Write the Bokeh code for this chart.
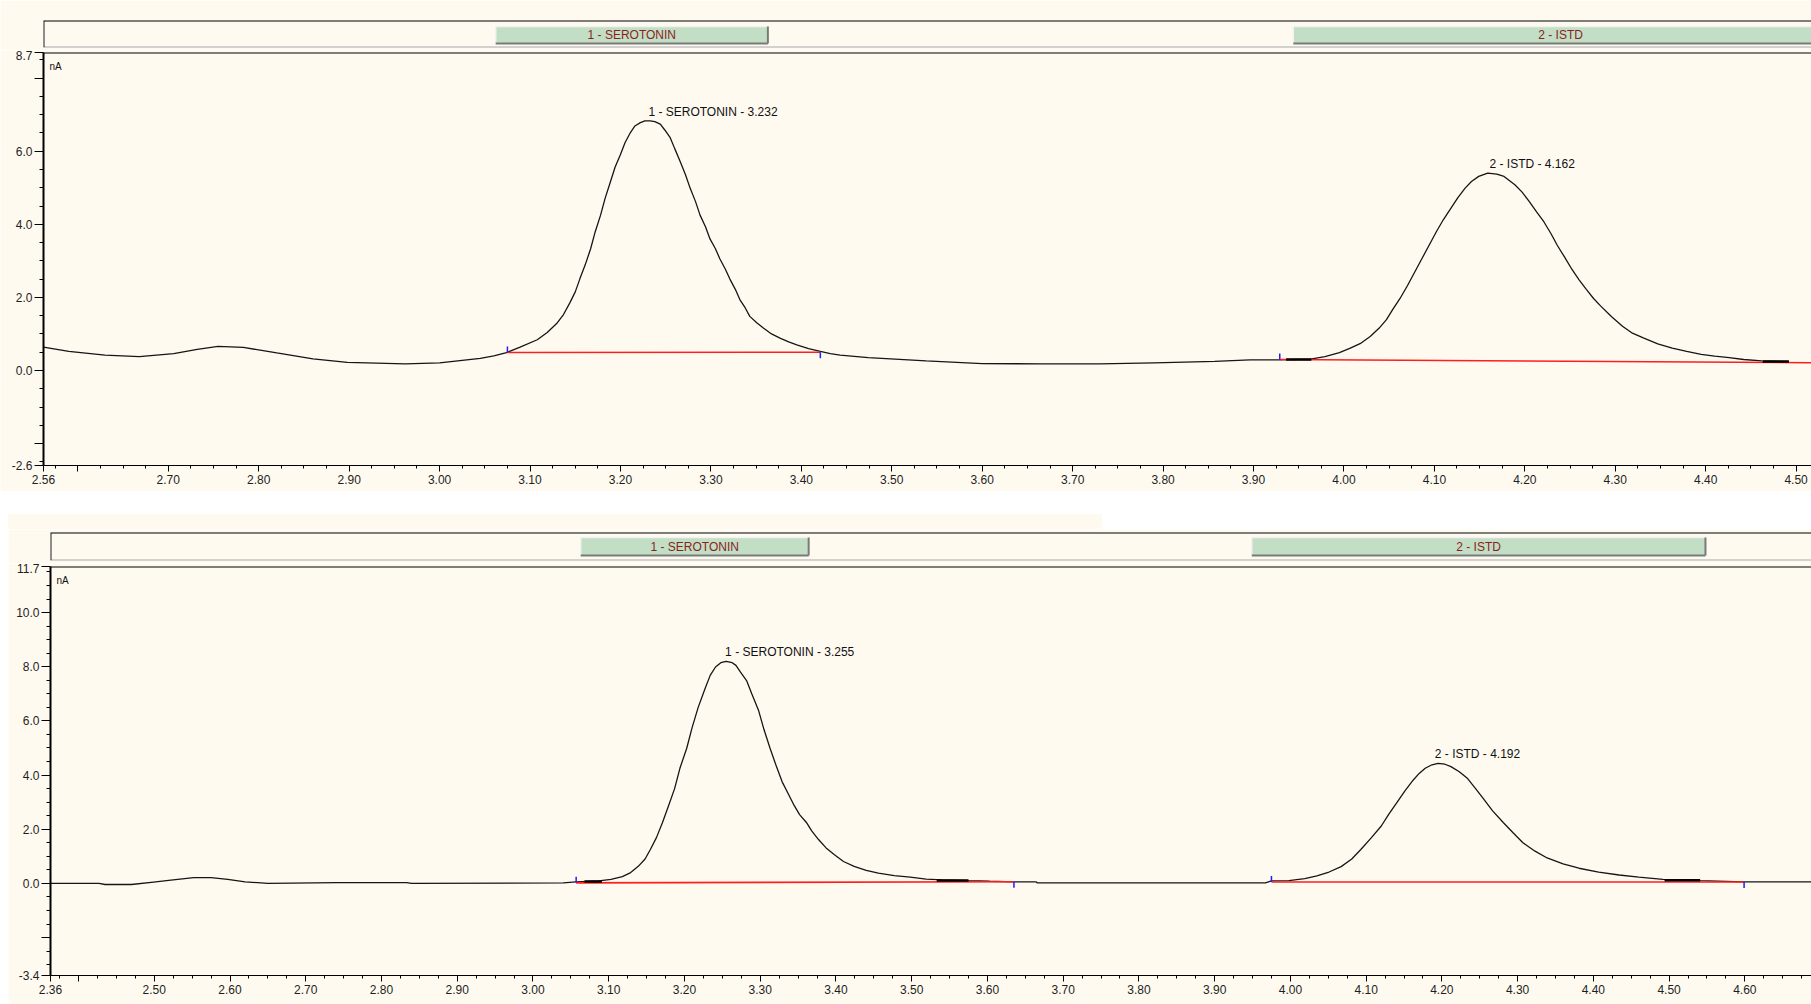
import math
from bokeh.plotting import figure
from bokeh.models import Range1d, FixedTicker, PrintfTickFormatter, Span, Spacer
from bokeh.layouts import column, row
from bokeh.embed import file_html
from bokeh.resources import INLINE
from bokeh.core.properties import value

CREAM = "#FFFAF0"
FONT = "Liberation Sans"

# ---------------- data ----------------
# upper chromatogram: retention time (min) and signal (nA)
TOP_T = [2.562, 2.590, 2.630, 2.668, 2.706, 2.732, 2.755, 2.783, 2.820, 2.860, 2.898, 2.962,
         3.000, 3.045, 3.060, 3.074, 3.089, 3.108, 3.119, 3.130, 3.137, 3.144, 3.150, 3.155,
         3.161, 3.167, 3.172, 3.178, 3.183, 3.189, 3.194, 3.200, 3.205, 3.211, 3.216, 3.222,
         3.227, 3.233, 3.238, 3.244, 3.249, 3.255, 3.260, 3.266, 3.272, 3.277, 3.283, 3.288,
         3.294, 3.299, 3.305, 3.310, 3.316, 3.321, 3.327, 3.332, 3.338, 3.343, 3.351, 3.358,
         3.367, 3.377, 3.386, 3.395, 3.408, 3.421, 3.432, 3.443, 3.474, 3.538, 3.600, 3.665,
         3.730, 3.790, 3.857, 3.896, 3.928, 3.963, 3.979, 3.995, 4.007, 4.019, 4.029, 4.039,
         4.047, 4.054, 4.062, 4.070, 4.078, 4.086, 4.094, 4.102, 4.110, 4.118, 4.126, 4.134,
         4.141, 4.149, 4.159, 4.169, 4.177, 4.189, 4.197, 4.205, 4.213, 4.221, 4.229, 4.236,
         4.244, 4.252, 4.260, 4.268, 4.276, 4.284, 4.296, 4.308, 4.319, 4.331, 4.347, 4.363,
         4.379, 4.395, 4.410, 4.426, 4.442, 4.462, 4.492]
TOP_V = [0.64, 0.52, 0.42, 0.38, 0.46, 0.58, 0.66, 0.63, 0.48, 0.32, 0.22, 0.18,
         0.21, 0.33, 0.40, 0.49, 0.64, 0.84, 1.04, 1.30, 1.53, 1.85, 2.15, 2.50,
         2.89, 3.33, 3.79, 4.25, 4.71, 5.17, 5.56, 5.91, 6.23, 6.51, 6.69, 6.78,
         6.83, 6.83, 6.81, 6.74, 6.58, 6.37, 6.07, 5.72, 5.35, 4.99, 4.62, 4.25,
         3.93, 3.60, 3.33, 3.05, 2.77, 2.50, 2.22, 1.94, 1.71, 1.48, 1.30, 1.16,
         1.00, 0.88, 0.78, 0.70, 0.60, 0.52, 0.46, 0.42, 0.35, 0.26, 0.19, 0.18,
         0.18, 0.21, 0.25, 0.29, 0.29, 0.31, 0.38, 0.49, 0.61, 0.75, 0.93, 1.16,
         1.39, 1.67, 1.97, 2.31, 2.68, 3.05, 3.42, 3.79, 4.13, 4.43, 4.73, 4.99,
         5.17, 5.31, 5.40, 5.37, 5.31, 5.08, 4.88, 4.62, 4.34, 4.07, 3.74, 3.42,
         3.10, 2.77, 2.48, 2.22, 1.97, 1.76, 1.47, 1.21, 1.02, 0.89, 0.73, 0.61,
         0.52, 0.44, 0.39, 0.35, 0.30, 0.26, 0.24]

# lower chromatogram
BOT_T = [2.363, 2.427, 2.435, 2.470, 2.499, 2.522, 2.552, 2.575, 2.597, 2.620, 2.650, 2.742,
         2.833, 2.840, 3.040, 3.057, 3.087, 3.103, 3.118, 3.129, 3.139, 3.148, 3.155, 3.163,
         3.171, 3.179, 3.187, 3.194, 3.203, 3.210, 3.218, 3.227, 3.234, 3.241, 3.248, 3.255,
         3.263, 3.268, 3.274, 3.282, 3.289, 3.298, 3.305, 3.313, 3.321, 3.329, 3.337, 3.345,
         3.352, 3.361, 3.368, 3.377, 3.387, 3.398, 3.410, 3.424, 3.440, 3.456, 3.477, 3.498,
         3.519, 3.540, 3.575, 3.603, 3.635, 3.664, 3.666, 3.967, 3.975, 3.998, 4.019, 4.035,
         4.051, 4.067, 4.081, 4.093, 4.107, 4.120, 4.130, 4.141, 4.151, 4.162, 4.170, 4.178,
         4.187, 4.195, 4.204, 4.212, 4.223, 4.234, 4.244, 4.255, 4.267, 4.281, 4.294, 4.307,
         4.323, 4.339, 4.360, 4.381, 4.407, 4.434, 4.460, 4.492, 4.541, 4.599, 4.688]
BOT_V = [0.00, 0.00, -0.04, -0.04, 0.05, 0.12, 0.21, 0.21, 0.15, 0.06, 0.00, 0.03,
         0.03, 0.00, 0.02, 0.06, 0.09, 0.15, 0.25, 0.40, 0.63, 0.90, 1.25, 1.69,
         2.25, 2.87, 3.50, 4.25, 4.99, 5.74, 6.49, 7.18, 7.68, 7.99, 8.15, 8.20,
         8.15, 8.05, 7.80, 7.49, 6.99, 6.37, 5.68, 4.99, 4.35, 3.75, 3.31, 2.87,
         2.54, 2.25, 1.94, 1.62, 1.31, 1.06, 0.81, 0.63, 0.48, 0.38, 0.29, 0.23,
         0.16, 0.13, 0.10, 0.08, 0.06, 0.06, 0.02, 0.02, 0.09, 0.10, 0.18, 0.28,
         0.42, 0.62, 0.90, 1.25, 1.69, 2.12, 2.56, 3.00, 3.41, 3.81, 4.06, 4.25,
         4.38, 4.43, 4.40, 4.31, 4.12, 3.87, 3.52, 3.12, 2.68, 2.25, 1.87, 1.50,
         1.19, 0.94, 0.72, 0.56, 0.42, 0.31, 0.23, 0.15, 0.10, 0.06, 0.06]

PEAK_NAMES = ["1 - SEROTONIN", "2 - ISTD"]
TOP_PEAK_RT = [3.232, 4.162]
TOP_PEAK_H = [6.83, 5.40]
BOT_PEAK_RT = [3.255, 4.192]
BOT_PEAK_H = [8.20, 4.43]

# peak windows (green bars)
TOP_WIN_START = [3.062, 3.944]
TOP_WIN_END = [3.363, 4.535]
BOT_WIN_START = [3.063, 3.949]
BOT_WIN_END = [3.364, 4.548]

# integration baselines (red)
TOP_BASE_X0 = [3.075, 3.929]
TOP_BASE_Y0 = [0.49, 0.30]
TOP_BASE_X1 = [3.421, 4.530]
TOP_BASE_Y1 = [0.50, 0.21]
BOT_BASE_X0 = [3.057, 3.975]
BOT_BASE_Y0 = [0.02, 0.05]
BOT_BASE_X1 = [3.635, 4.599]
BOT_BASE_Y1 = [0.06, 0.05]

# peak start / end markers (blue)
TOP_MARK_T = [3.075, 3.421, 3.929]
TOP_MARK_V = [0.49, 0.50, 0.30]
TOP_MARK_UP = [True, False, True]
BOT_MARK_T = [3.057, 3.635, 3.975, 4.599]
BOT_MARK_V = [0.02, 0.06, 0.05, 0.05]
BOT_MARK_UP = [True, False, True, False]

# short emphasised trace pieces near integration limits
TOP_THICK_T0 = [3.936, 4.463]
TOP_THICK_T1 = [3.964, 4.492]
TOP_THICK_V = [0.30, 0.245]
BOT_THICK_T0 = [3.068, 3.533, 4.494]
BOT_THICK_T1 = [3.091, 3.575, 4.541]
BOT_THICK_V = [0.07, 0.11, 0.12]

# axes
TOP_X_RANGE = (2.562, 4.517)
TOP_Y_RANGE = (-2.6, 8.7)
BOT_X_RANGE = (2.363, 4.688)
BOT_Y_RANGE = (-3.4, 11.7)
TOP_X_MAJOR = [2.562, 2.6, 2.7, 2.8, 2.9, 3.0, 3.1, 3.2, 3.3, 3.4, 3.5, 3.6, 3.7, 3.8, 3.9,
               4.0, 4.1, 4.2, 4.3, 4.4, 4.5]
TOP_X_HIDDEN = [2.6]
BOT_X_MAJOR = [2.363, 2.4, 2.5, 2.6, 2.7, 2.8, 2.9, 3.0, 3.1, 3.2, 3.3, 3.4, 3.5, 3.6, 3.7,
               3.8, 3.9, 4.0, 4.1, 4.2, 4.3, 4.4, 4.5, 4.6]
BOT_X_HIDDEN = [2.4]
TOP_Y_MAJOR = [-2.6, -2.0, 0.0, 2.0, 4.0, 6.0, 8.0, 8.7]
TOP_Y_HIDDEN = [-2.0, 8.0]
BOT_Y_MAJOR = [-3.4, -2.0, 0.0, 2.0, 4.0, 6.0, 8.0, 10.0, 11.7]
BOT_Y_HIDDEN = [-2.0]

W = 1811
LEFT_PAD = 8
FS = "12px"


def minor(lo, hi, step):
    out = []
    k = math.ceil(lo / step)
    while k * step < hi:
        out.append(round(k * step, 4))
        k += 1
    return out


def make_strip(xr, width, height, frame_h, mtop, mbot, mleft, starts, ends, bar_b, bar_t):
    s = figure(width=width, height=height, x_range=xr, y_range=Range1d(0, frame_h),
               output_backend="svg", toolbar_location=None, x_axis_type=None, y_axis_type=None,
               min_border_left=mleft, min_border_right=0, min_border_top=mtop,
               min_border_bottom=mbot, background_fill_color=CREAM, border_fill_color=CREAM,
               outline_line_color=None)
    s.grid.visible = False
    bb = [bar_b] * len(starts)
    tt = [bar_t] * len(starts)
    s.quad(left=starts, right=ends, bottom=bb, top=tt, fill_color="#C2DEC4", line_color=None)
    s.segment(x0=starts, y0=tt, x1=ends, y1=tt, line_color="#F2F2F2", line_width=1.5)
    s.segment(x0=starts, y0=bb, x1=starts, y1=tt, line_color="#F2F2F2", line_width=1.5)
    s.segment(x0=starts, y0=bb, x1=ends, y1=bb, line_color="#7A7A7A", line_width=2)
    s.segment(x0=ends, y0=bb, x1=ends, y1=tt, line_color="#7A7A7A", line_width=2)
    cx = [(a + b) / 2 for a, b in zip(starts, ends)]
    cy = [(bar_b + bar_t) / 2] * len(starts)
    s.text(x=cx, y=cy, text=PEAK_NAMES, text_font=value(FONT), text_font_size=FS,
           text_color="#8B1E1E", text_align="center", text_baseline="middle")
    s.add_layout(Span(location=frame_h, dimension="width", line_color="#000000", line_width=2))
    s.add_layout(Span(location=0, dimension="width", line_color="#A8A8A8", line_width=2))
    s.add_layout(Span(location=xr.start, dimension="height", line_color="#202020", line_width=2))
    return s


def make_main(xr, yr, width, height, mtop, mbot, mleft, t, v, xmaj, xhid, ymaj, yhid,
              base, marks, thick, rts, hs):
    p = figure(width=width, height=height, x_range=xr, y_range=yr, output_backend="svg",
               toolbar_location=None, min_border_left=mleft, min_border_right=0,
               min_border_top=mtop, min_border_bottom=mbot, background_fill_color=CREAM,
               border_fill_color=CREAM, outline_line_color=None)
    p.grid.visible = False

    xa = p.xaxis[0]
    xa.ticker = FixedTicker(ticks=xmaj, minor_ticks=minor(xr.start, xr.end, 0.025))
    xa.formatter = PrintfTickFormatter(format="%.2f")
    xa.major_label_overrides = {k: "" for k in xhid}
    xa.major_tick_in = 0
    xa.major_tick_out = 6
    xa.minor_tick_in = 0
    xa.minor_tick_out = 3
    xa.major_label_standoff = 3
    xa.axis_line_color = "#000000"
    xa.major_tick_line_color = "#000000"
    xa.minor_tick_line_color = "#000000"
    xa.major_label_text_font = FONT
    xa.major_label_text_font_size = FS
    xa.major_label_text_color = "#1E1E1E"

    ya = p.yaxis[0]
    ya.ticker = FixedTicker(ticks=ymaj, minor_ticks=minor(yr.start, yr.end, 0.5))
    ya.formatter = PrintfTickFormatter(format="%.1f")
    ya.major_label_overrides = {k: "" for k in yhid}
    ya.major_tick_in = 0
    ya.major_tick_out = 9
    ya.minor_tick_in = 0
    ya.minor_tick_out = 4
    ya.major_label_standoff = 2
    ya.axis_line_color = "#000000"
    ya.axis_line_width = 2
    ya.major_tick_line_color = "#000000"
    ya.minor_tick_line_color = "#000000"
    ya.major_label_text_font = FONT
    ya.major_label_text_font_size = FS
    ya.major_label_text_color = "#1E1E1E"

    p.add_layout(Span(location=yr.end, dimension="width", line_color="#000000", line_width=2))

    p.line(t, v, line_color="#151515", line_width=1.3)
    bx0, by0, bx1, by1 = base
    p.segment(x0=bx0, y0=by0, x1=bx1, y1=by1, line_color="#FF1E1E", line_width=1.6)
    tk0, tk1, tkv = thick
    p.segment(x0=tk0, y0=tkv, x1=tk1, y1=tkv, line_color="#000000", line_width=2.5)
    mt, mv, mup = marks
    ang = [math.pi / 2 if u else -math.pi / 2 for u in mup]
    p.ray(x=mt, y=mv, length=6, length_units="screen", angle=ang,
          line_color="#1E1EFF", line_width=1.5)

    labels = [f"{n} - {r:.3f}" for n, r in zip(PEAK_NAMES, rts)]
    p.text(x=rts, y=hs, text=labels, text_font=value(FONT), text_font_size=FS,
           text_color="#111111", text_align="left", text_baseline="bottom",
           x_offset=-1, y_offset=-2)
    p.text(x=[xr.start], y=[yr.end], text=["nA"], text_font=value(FONT),
           text_font_size="10px", text_color="#111111", text_align="left",
           text_baseline="top", x_offset=6, y_offset=8)
    return p


top_xr = Range1d(*TOP_X_RANGE)
top_yr = Range1d(*TOP_Y_RANGE)
bot_xr = Range1d(*BOT_X_RANGE)
bot_yr = Range1d(*BOT_Y_RANGE)

top_strip = make_strip(top_xr, W, 50, 27, 20, 3, 43, TOP_WIN_START, TOP_WIN_END, 4, 21)
top_main = make_main(top_xr, top_yr, W, 441, 2, 26, 43, TOP_T, TOP_V, TOP_X_MAJOR,
                     TOP_X_HIDDEN, TOP_Y_MAJOR, TOP_Y_HIDDEN,
                     (TOP_BASE_X0, TOP_BASE_Y0, TOP_BASE_X1, TOP_BASE_Y1),
                     (TOP_MARK_T, TOP_MARK_V, TOP_MARK_UP),
                     (TOP_THICK_T0, TOP_THICK_T1, TOP_THICK_V),
                     TOP_PEAK_RT, TOP_PEAK_H)

gap = Spacer(width=W, height=23, margin=0)
notch = row(Spacer(width=LEFT_PAD, height=15, margin=0),
            Spacer(width=1094, height=15, margin=0, styles={"background-color": CREAM}),
            Spacer(width=W - 1094 - LEFT_PAD, height=15, margin=0))

BW = W - LEFT_PAD
bot_strip = make_strip(bot_xr, BW, 34, 28, 3, 3, 42, BOT_WIN_START, BOT_WIN_END, 5, 23)
bot_main = make_main(bot_xr, bot_yr, BW, 441, 3, 29, 42, BOT_T, BOT_V, BOT_X_MAJOR,
                     BOT_X_HIDDEN, BOT_Y_MAJOR, BOT_Y_HIDDEN,
                     (BOT_BASE_X0, BOT_BASE_Y0, BOT_BASE_X1, BOT_BASE_Y1),
                     (BOT_MARK_T, BOT_MARK_V, BOT_MARK_UP),
                     (BOT_THICK_T0, BOT_THICK_T1, BOT_THICK_V),
                     BOT_PEAK_RT, BOT_PEAK_H)

layout = column(
    top_strip,
    top_main,
    gap,
    notch,
    row(Spacer(width=LEFT_PAD, height=34, margin=0), bot_strip),
    row(Spacer(width=LEFT_PAD, height=441, margin=0), bot_main),
    spacing=0,
)

with open("out.html", "w") as f:
    f.write(file_html(layout, INLINE))
